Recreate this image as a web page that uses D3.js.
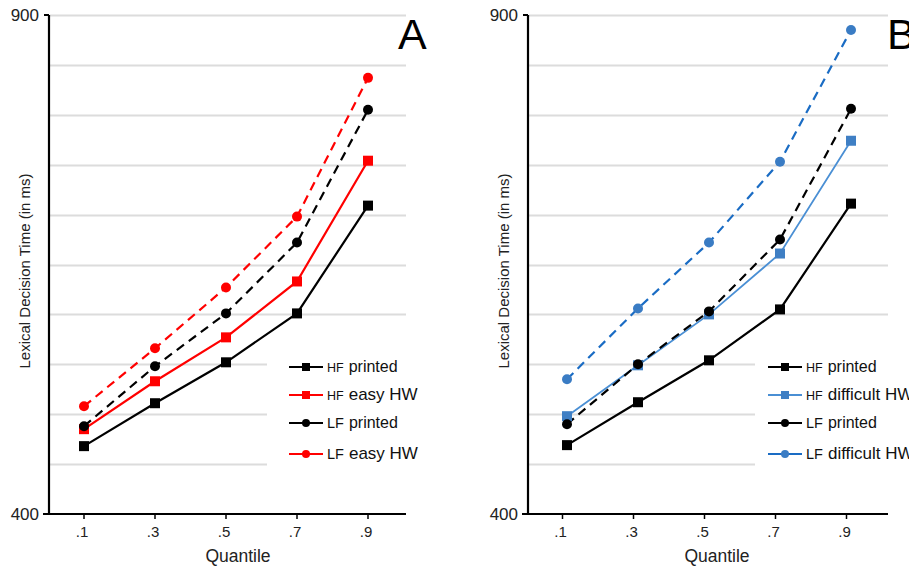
<!DOCTYPE html>
<html>
<head>
<meta charset="utf-8">
<script src="https://cdn.jsdelivr.net/npm/d3@7"></script>
<style>
  body { margin: 0; background: #fff; }
  svg { display: block; font-family: "Liberation Sans", Arial, sans-serif; }
</style>
</head>
<body>
<svg id="chart" width="909" height="569"></svg>
<script>
// quantile positions and labels
var quantiles = [0.1, 0.3, 0.5, 0.7, 0.9];
var quantileLabels = [".1", ".3", ".5", ".7", ".9"];
var yTickValues = [400, 900];
var gridValues = [450, 500, 550, 600, 650, 700, 750, 800, 850, 900];

// panel A (ms)
var hfPrintedA = [468, 511, 552, 601, 709];
var hfEasyHW   = [485, 533, 577, 633, 754];
var lfPrintedA = [488, 548, 601, 672, 805];
var lfEasyHW   = [508, 566, 627, 698, 837];

// panel B (ms)
var hfPrintedB    = [469, 512, 554, 605, 711];
var hfDifficultHW = [498, 549, 600, 661, 774];
var lfPrintedB    = [490, 550, 603, 675, 806];
var lfDifficultHW = [535, 606, 672, 753, 885];

var svg = d3.select("#chart");

function drawPanel(p) {
  var g = svg.append("g");
  var y = d3.scaleLinear().domain([400, 900]).range([514, 15]);
  var x = d3.scaleLinear().domain([0, 1]).range([p.x0, p.x0 + 355]);

  // gridlines (lower ones stop where the legend sits)
  g.selectAll(".grid").data(gridValues).enter().append("line")
    .attr("x1", p.axisX + 1)
    .attr("x2", function(d) { return d <= 550 ? p.axisX + p.gridCut : p.axisX + p.gridLen; })
    .attr("y1", function(d) { return Math.round(y(d)) + 0.5; })
    .attr("y2", function(d) { return Math.round(y(d)) + 0.5; })
    .attr("stroke", "#dcdcdc").attr("stroke-width", 2);

  // y axis
  g.append("line").attr("x1", p.axisX).attr("x2", p.axisX)
    .attr("y1", y(900)).attr("y2", y(400) + 1)
    .attr("stroke", "#000").attr("stroke-width", 2.2);
  g.selectAll(".ytick").data(yTickValues).enter().append("line")
    .attr("x1", p.axisX - 5).attr("x2", p.axisX)
    .attr("y1", function(d) { return y(d); }).attr("y2", function(d) { return y(d); })
    .attr("stroke", "#000").attr("stroke-width", 2);
  g.selectAll(".ylab").data(yTickValues).enter().append("text")
    .attr("x", p.axisX - 10).attr("y", function(d) { return y(d) + 6; })
    .attr("text-anchor", "end").attr("font-size", 17).attr("fill", "#222")
    .text(function(d) { return d; });

  // x axis
  g.append("line").attr("x1", p.axisX - 6).attr("x2", p.axisX + p.gridLen)
    .attr("y1", y(400)).attr("y2", y(400))
    .attr("stroke", "#000").attr("stroke-width", 2.2);
  g.selectAll(".xtick").data(quantiles).enter().append("line")
    .attr("x1", function(d) { return x(d) + p.tickShift; })
    .attr("x2", function(d) { return x(d) + p.tickShift; })
    .attr("y1", y(400)).attr("y2", y(400) + 5)
    .attr("stroke", "#000").attr("stroke-width", 1.5);
  g.selectAll(".xlab").data(quantiles).enter().append("text")
    .attr("x", function(d) { return x(d) + p.tickShift - 2; })
    .attr("y", 537).attr("text-anchor", "middle").attr("font-size", 15).attr("fill", "#222")
    .text(function(d, i) { return quantileLabels[i]; });

  g.append("text").attr("x", p.axisX + 189).attr("y", 562)
    .attr("text-anchor", "middle").attr("font-size", 17.5).attr("fill", "#222")
    .text("Quantile");
  g.append("text")
    .attr("transform", "translate(" + (p.axisX - 19) + ",271) rotate(-90)")
    .attr("text-anchor", "middle").attr("font-size", 15).attr("fill", "#222")
    .text("Lexical Decision Time (in ms)");

  g.append("text").attr("x", p.letterX).attr("y", 49)
    .attr("font-size", 43).attr("fill", "#000").text(p.letter);

  var line = d3.line()
    .x(function(d, i) { return x(quantiles[i]); })
    .y(function(d) { return y(d); });

  p.series.forEach(function(s) {
    g.append("path").datum(s.values)
      .attr("d", line).attr("fill", "none")
      .attr("stroke", s.line).attr("stroke-width", s.width || 2.2)
      .attr("stroke-dasharray", s.dashed ? "9,6" : null);
  });
  p.series.forEach(function(s) {
    var m = g.selectAll(null).data(s.values).enter();
    if (s.shape === "square") {
      m.append("rect")
        .attr("x", function(d, i) { return x(quantiles[i]) - 5; })
        .attr("y", function(d) { return y(d) - 5; })
        .attr("width", 10).attr("height", 10).attr("fill", s.color);
    } else {
      m.append("circle")
        .attr("cx", function(d, i) { return x(quantiles[i]); })
        .attr("cy", function(d) { return y(d); })
        .attr("r", 5).attr("fill", s.color);
    }
  });

  // legend
  var legendY = [367, 395, 423, 454];
  p.series.forEach(function(s, i) {
    var ly = legendY[i];
    g.append("line").attr("x1", p.legendX).attr("x2", p.legendX + 34)
      .attr("y1", ly).attr("y2", ly)
      .attr("stroke", s.line).attr("stroke-width", 2.2);
    if (s.shape === "square") {
      g.append("rect").attr("x", p.legendX + 13).attr("y", ly - 4)
        .attr("width", 8).attr("height", 8).attr("fill", s.color);
    } else {
      g.append("circle").attr("cx", p.legendX + 17).attr("cy", ly)
        .attr("r", 4).attr("fill", s.color);
    }
    var t = g.append("text").attr("x", p.legendX + 38).attr("y", ly + 5).attr("fill", "#111");
    t.append("tspan").attr("font-size", s.prefix === "HF" ? 12.5 : 14.5).text(s.prefix);
    t.append("tspan").attr("dx", 5).attr("font-size", s.big ? 17 : 16).text(s.label);
  });
}

drawPanel({
  letter: "A", letterX: 398, axisX: 49, x0: 48.5, tickShift: 0,
  gridLen: 357, gridCut: 218, legendX: 289,
  series: [
    { values: hfPrintedA, prefix: "HF", label: "printed", color: "#000", line: "#000", shape: "square" },
    { values: hfEasyHW, prefix: "HF", label: "easy HW", big: true, color: "#f00", line: "#f00", shape: "square" },
    { values: lfPrintedA, prefix: "LF", label: "printed", color: "#000", line: "#000", shape: "circle", dashed: true },
    { values: lfEasyHW, prefix: "LF", label: "easy HW", big: true, color: "#f00", line: "#f00", shape: "circle", dashed: true }
  ]
});

drawPanel({
  letter: "B", letterX: 887, axisX: 528, x0: 531.5, tickShift: -4.5,
  gridLen: 360, gridCut: 227, legendX: 768,
  series: [
    { values: hfPrintedB, prefix: "HF", label: "printed", color: "#000", line: "#000", shape: "square" },
    { values: hfDifficultHW, prefix: "HF", label: "difficult HW", big: true, color: "#3f7fc4", line: "#4a8fd4", shape: "square", width: 1.8 },
    { values: lfPrintedB, prefix: "LF", label: "printed", color: "#000", line: "#000", shape: "circle", dashed: true },
    { values: lfDifficultHW, prefix: "LF", label: "difficult HW", big: true, color: "#3a7cc4", line: "#1a6cc4", shape: "circle", dashed: true }
  ]
});
</script>
</body>
</html>
